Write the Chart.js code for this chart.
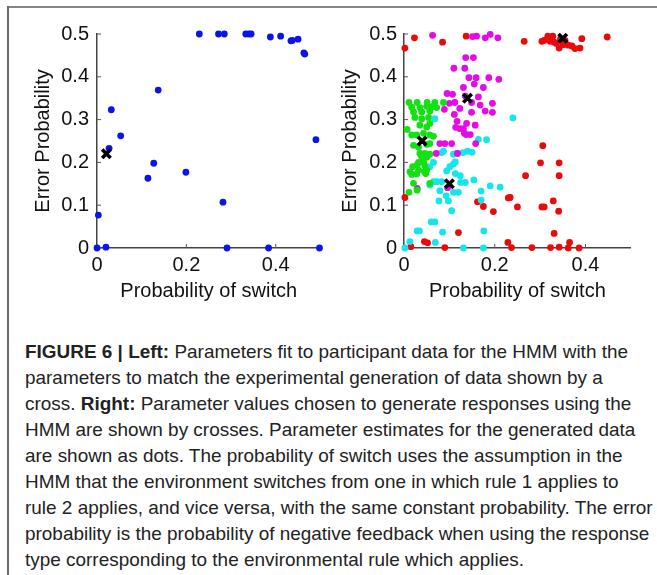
<!DOCTYPE html>
<html>
<head>
<meta charset="utf-8">
<script src="https://cdn.jsdelivr.net/npm/chart.js@4/dist/chart.umd.min.js"></script>
<style>
  html, body { margin: 0; padding: 0; background: #fff; }
  #fig { position: relative; width: 657px; height: 575px; overflow: hidden; background: #fff; }
  #frameTop { position: absolute; left: 8px; top: 6px; width: 649px; height: 2px; background: #858585; }
  #frameLeft { position: absolute; left: 7px; top: 6px; width: 2px; height: 569px; background: #6a6a6a; }
  #leftWrap { position: absolute; left: 0; top: 0; width: 330px; height: 310px; }
  #rightWrap { position: absolute; left: 330px; top: 0; width: 327px; height: 310px; }
  #caption { position: absolute; left: 25px; top: 339px; color: #222;
    font-family: "Liberation Sans", Arial, sans-serif;
    font-size: 19px; line-height: 26px; transform-origin: 0 0; }
  #caption div { white-space: nowrap; }
  #caption span.w { display: inline-block; }
</style>
</head>
<body>
<div id="fig">
  <div id="frameTop"></div>
  <div id="frameLeft"></div>
  <div id="leftWrap"><canvas id="leftChart"></canvas></div>
  <div id="rightWrap"><canvas id="rightChart"></canvas></div>
  <div id="caption">
    <div><span id="firstLine" class="w"><b>FIGURE 6 | Left:</b> Parameters fit to participant data for the HMM with the</span></div>
    <div>parameters to match the experimental generation of data shown by a</div>
    <div>cross. <b>Right:</b> Parameter values chosen to generate responses using the</div>
    <div>HMM are shown by crosses. Parameter estimates for the generated data</div>
    <div>are shown as dots. The probability of switch uses the assumption in the</div>
    <div>HMM that the environment switches from one in which rule 1 applies to</div>
    <div>rule 2 applies, and vice versa, with the same constant probability. The error</div>
    <div>probability is the probability of negative feedback when using the response</div>
    <div>type corresponding to the environmental rule which applies.</div>
  </div>
</div>
<script>
// ticks
var xTicks = [0, 0.2, 0.4];
var yTicks = [0, 0.1, 0.2, 0.3, 0.4, 0.5];

// left panel: participant fits
var leftX = [0.229, 0.272, 0.285, 0.333, 0.340, 0.345, 0.388, 0.411, 0.434, 0.437, 0.450, 0.463, 0.465,
  0.137, 0.032, 0.053, 0.027, 0.127, 0.114, 0.199, 0.490, 0.282, 0.003, 0.000, 0.020, 0.291, 0.384, 0.498];
var leftY = [0.500, 0.500, 0.500, 0.500, 0.500, 0.500, 0.493, 0.495, 0.484, 0.485, 0.488, 0.456, 0.453,
  0.369, 0.323, 0.262, 0.233, 0.198, 0.163, 0.177, 0.253, 0.107, 0.077, 0.000, 0.002, 0.000, 0.000, 0.000];
var leftCrossX = [0.021];
var leftCrossY = [0.220];

// right panel: generating parameters (crosses) and estimates (dots)
var rightCrossX = [0.04, 0.10, 0.14, 0.35];
var rightCrossY = [0.25, 0.15, 0.35, 0.49];

var redX = [0.002, 0.023, 0.085, 0.137, 0.265, 0.304, 0.309, 0.317, 0.328, 0.322, 0.331, 0.336, 0.345, 0.355, 0.342, 0.351,
  0.362, 0.370, 0.377, 0.388, 0.392, 0.448,
  0.306, 0.301, 0.342, 0.268, 0.342, 0.234, 0.250, 0.304, 0.309, 0.329, 0.341, 0.331, 0.237, 0.282, 0.323, 0.342,
  0.365, 0.362, 0.386, 0.002, 0.015, 0.045, 0.052, 0.090, 0.120, 0.162, 0.175, 0.197, 0.230, 0.229];
var redY = [0.467, 0.491, 0.481, 0.495, 0.483, 0.483, 0.485, 0.495, 0.495, 0.483, 0.481, 0.478, 0.488, 0.485, 0.467, 0.475,
  0.474, 0.472, 0.466, 0.467, 0.489, 0.493,
  0.239, 0.199, 0.199, 0.169, 0.169, 0.118, 0.096, 0.096, 0.096, 0.110, 0.086, 0.034, 0.001, 0.001, 0.001, 0.002,
  0.013, 0.000, 0.000, 0.118, 0.003, 0.015, 0.012, 0.001, 0.036, 0.108, 0.097, 0.085, 0.117, 0.013];

var magentaX = [0.063, 0.151, 0.160, 0.179, 0.190, 0.207, 0.136, 0.153, 0.110, 0.134, 0.143, 0.159, 0.187, 0.209,
  0.175, 0.155, 0.131, 0.095, 0.107, 0.164, 0.135, 0.100, 0.112, 0.149, 0.168, 0.195, 0.089, 0.123, 0.111, 0.149,
  0.179, 0.195, 0.117, 0.138, 0.114, 0.123, 0.157, 0.133, 0.137, 0.079, 0.090, 0.105, 0.071, 0.118, 0.158, 0.029,
  0.096, 0.146, 0.131];
var magentaY = [0.497, 0.494, 0.495, 0.491, 0.499, 0.491, 0.445, 0.445, 0.420, 0.420, 0.398, 0.398, 0.398, 0.394,
  0.375, 0.383, 0.375, 0.361, 0.359, 0.353, 0.355, 0.338, 0.340, 0.340, 0.334, 0.338, 0.324, 0.326, 0.312, 0.317,
  0.320, 0.317, 0.296, 0.291, 0.282, 0.279, 0.287, 0.268, 0.265, 0.244, 0.244, 0.244, 0.221, 0.221, 0.244, 0.139,
  0.141, 0.265, 0.279];

var cyanX = [0.002, 0.013, 0.029, 0.034, 0.060, 0.068, 0.069, 0.085, 0.131, 0.175, 0.176, 0.079, 0.077, 0.098, 0.105,
  0.093, 0.109, 0.065, 0.072, 0.083, 0.057, 0.120, 0.125, 0.135, 0.113, 0.124, 0.109, 0.113, 0.101, 0.094, 0.065,
  0.057, 0.083, 0.087, 0.109, 0.116, 0.130, 0.140, 0.150, 0.154, 0.170, 0.170, 0.190, 0.212, 0.164, 0.182, 0.240,
  0.068];
var cyanY = [0.000, 0.015, 0.040, 0.040, 0.061, 0.061, 0.013, 0.037, 0.000, 0.000, 0.040, 0.134, 0.110, 0.110, 0.087,
  0.122, 0.130, 0.155, 0.155, 0.155, 0.147, 0.130, 0.153, 0.153, 0.174, 0.169, 0.196, 0.201, 0.190, 0.180, 0.200,
  0.190, 0.223, 0.226, 0.219, 0.221, 0.223, 0.226, 0.224, 0.159, 0.133, 0.112, 0.145, 0.142, 0.254, 0.253, 0.304,
  0.302];

var greenX = [0.011, 0.029, 0.051, 0.068, 0.087, 0.017, 0.035, 0.050, 0.061, 0.072, 0.021, 0.039, 0.057, 0.024, 0.039,
  0.054, 0.035, 0.050, 0.057, 0.007, 0.017, 0.028, 0.043, 0.057, 0.065, 0.021, 0.032, 0.050, 0.057, 0.035, 0.046,
  0.057, 0.039, 0.050, 0.032, 0.043, 0.019, 0.029, 0.046, 0.013, 0.032, 0.045, 0.050, 0.017, 0.028, 0.048, 0.021,
  0.011, 0.029, 0.057];
var greenY = [0.340, 0.340, 0.340, 0.340, 0.340, 0.329, 0.328, 0.331, 0.330, 0.328, 0.318, 0.318, 0.320, 0.305, 0.302,
  0.305, 0.287, 0.283, 0.291, 0.277, 0.264, 0.264, 0.268, 0.264, 0.261, 0.240, 0.236, 0.242, 0.244, 0.221, 0.221,
  0.219, 0.213, 0.212, 0.200, 0.200, 0.190, 0.194, 0.192, 0.178, 0.182, 0.178, 0.182, 0.172, 0.173, 0.174, 0.151,
  0.130, 0.135, 0.151];

function pts(xs, ys) {
    return xs.map(function(x, i) { return { x: x, y: ys[i] }; });
}

function dots(xs, ys, color, order) {
    return {
        data: pts(xs, ys),
        backgroundColor: color,
        borderWidth: 0,
        pointRadius: 3.4,
        pointHoverRadius: 3.4,
        clip: false,
        order: order
    };
}

function crosses(xs, ys) {
    return {
        data: pts(xs, ys),
        pointStyle: 'crossRot',
        borderColor: '#000',
        backgroundColor: '#000',
        borderWidth: 3.6,
        pointRadius: 6,
        pointHoverRadius: 6,
        clip: false,
        order: 0
    };
}

// short inward tick marks like the original plot
var inwardTicks = {
    id: 'inwardTicks',
    beforeDatasetsDraw: function(chart) {
        var ctx = chart.ctx, a = chart.chartArea;
        var xs = chart.scales.x, ys = chart.scales.y;
        ctx.save();
        ctx.strokeStyle = '#555';
        ctx.lineWidth = 1;
        ctx.beginPath();
        xs.ticks.forEach(function(t) {
            var px = xs.getPixelForValue(t.value);
            ctx.moveTo(px, a.bottom);
            ctx.lineTo(px, a.bottom - 4);
        });
        ys.ticks.forEach(function(t) {
            var py = ys.getPixelForValue(t.value);
            ctx.moveTo(a.left, py);
            ctx.lineTo(a.left + 4, py);
        });
        ctx.stroke();
        ctx.restore();
    }
};

function makeChart(id, datasets, g) {
    var font = 'Liberation Sans, Arial, sans-serif';
    return new Chart(document.getElementById(id), {
        type: 'scatter',
        data: { datasets: datasets },
        plugins: [inwardTicks],
        options: {
            responsive: true,
            maintainAspectRatio: false,
            animation: false,
            events: [],
            layout: { padding: { left: 0, top: 34, right: g.padRight, bottom: 6 } },
            plugins: { legend: { display: false }, tooltip: { enabled: false } },
            scales: {
                x: {
                    type: 'linear', min: 0, max: 0.5,
                    grid: { display: false, drawTicks: false },
                    border: { display: true, color: '#444', width: 1.5 },
                    afterBuildTicks: function(axis) {
                        axis.ticks = xTicks.map(function(v) { return { value: v }; });
                    },
                    afterFit: function(scale) { scale.height = 56; },
                    ticks: {
                        padding: 5, color: '#111', font: { family: font, size: 20 },
                        callback: function(v) { return String(v); }
                    },
                    title: {
                        display: true, text: 'Probability of switch', color: '#111',
                        font: { family: font, size: 20 }, padding: { top: 0, bottom: 1 }
                    }
                },
                y: {
                    type: 'linear', min: 0, max: 0.5,
                    grid: { display: false, drawTicks: false },
                    border: { display: true, color: '#444', width: 1.5 },
                    afterBuildTicks: function(axis) {
                        axis.ticks = yTicks.map(function(v) { return { value: v }; });
                    },
                    afterFit: function(scale) { scale.width = g.yWidth; },
                    ticks: {
                        padding: g.tickPad, color: '#111', font: { family: font, size: 20 },
                        callback: function(v) { return String(v); }
                    },
                    title: {
                        display: true, text: 'Error Probability', color: '#111',
                        font: { family: font, size: 20 }, padding: { top: g.titlePad, bottom: 0 }
                    }
                }
            }
        }
    });
}

// caption is set in a condensed face in the original: squeeze it to the same width
function fitCaption() {
    var cap = document.getElementById('caption');
    var first = document.getElementById('firstLine');
    var w = first.getBoundingClientRect().width;
    if (w > 0) cap.style.transform = 'scaleX(' + (603 / w) + ')';
}

document.addEventListener('DOMContentLoaded', function() {
    makeChart('leftChart', [
        crosses(leftCrossX, leftCrossY),
        dots(leftX, leftY, 'rgb(10,20,235)', 1)
    ], { padRight: 5.5, yWidth: 97, tickPad: 8, titlePad: 31 });

    makeChart('rightChart', [
        crosses(rightCrossX, rightCrossY),
        dots(greenX, greenY, 'rgb(20,225,20)', 1),
        dots(magentaX, magentaY, 'rgb(230,10,230)', 2),
        dots(cyanX, cyanY, 'rgb(20,230,235)', 3),
        dots(redX, redY, 'rgb(235,10,10)', 4)
    ], { padRight: 26.2, yWidth: 74, tickPad: 7, titlePad: 8 });

    fitCaption();
});
</script>
</body>
</html>
